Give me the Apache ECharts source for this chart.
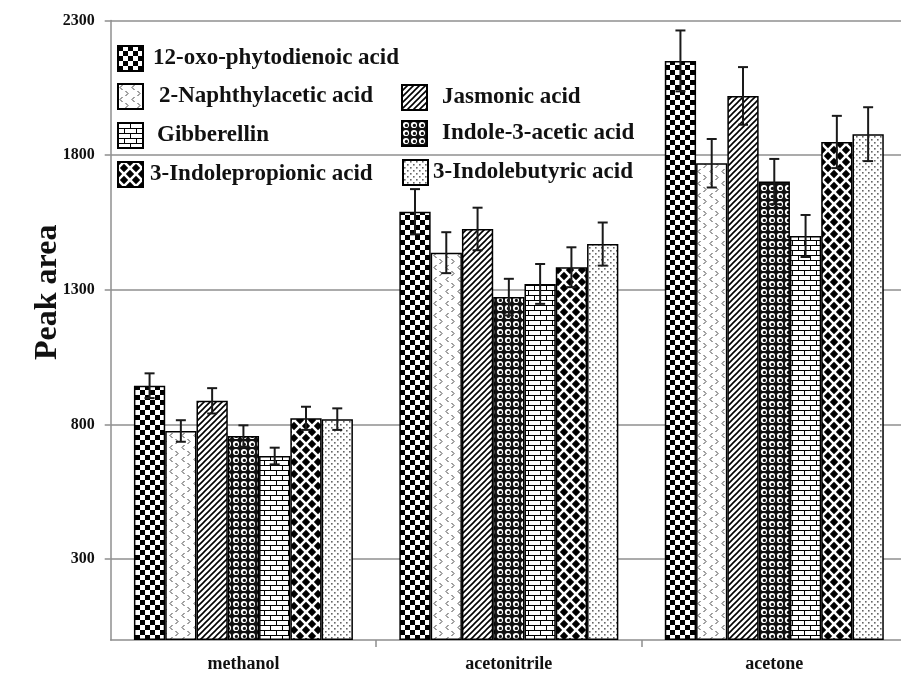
<!DOCTYPE html>
<html>
<head>
<meta charset="utf-8">
<script src="https://cdn.jsdelivr.net/npm/echarts@6/dist/echarts.min.js"></script>
<style>
  html, body { margin: 0; padding: 0; background: #fff; }
  #chart { width: 901px; height: 674px; }
</style>
</head>
<body>
<div id="chart"></div>
<script>
// Solvents on the category axis
const solvents = ['methanol', 'acetonitrile', 'acetone'];

// Compound names (series order within each solvent group)
const compounds = [
  '12-oxo-phytodienoic acid',
  '2-Naphthylacetic acid',
  'Jasmonic acid',
  'Indole-3-acetic acid',
  'Gibberellin',
  '3-Indolepropionic acid',
  '3-Indolebutyric acid'
];

// Peak areas per solvent, and their error bar half-widths
const opdaArea = [944, 1590, 2150];
const opdaErr = [46, 84, 113];
const naaArea = [776, 1438, 1770];
const naaErr = [40, 76, 90];
const jaArea = [888, 1526, 2020];
const jaErr = [47, 79, 107];
const iaaArea = [757, 1273, 1702];
const iaaErr = [40, 68, 84];
const gaArea = [683, 1322, 1500];
const gaErr = [31, 74, 78];
const ipaArea = [823, 1384, 1849];
const ipaErr = [43, 74, 97];
const ibaArea = [820, 1470, 1878];
const ibaErr = [40, 80, 100];

// Value-axis tick labels
const yTicks = [300, 800, 1300, 1800, 2300];

const areas = [opdaArea, naaArea, jaArea, iaaArea, gaArea, ipaArea, ibaArea];
const errs = [opdaErr, naaErr, jaErr, iaaErr, gaErr, ipaErr, ibaErr];

const FONT = "'Liberation Serif', 'Times New Roman', serif";
const GRAY = '#8f8f8f';
const CAT_GAP = 0.175;

// ---- monochrome fill patterns ----
function tile(w, h, draw) {
  const c = document.createElement('canvas');
  c.width = w; c.height = h;
  const g = c.getContext('2d');
  g.fillStyle = '#fff';
  g.fillRect(0, 0, w, h);
  draw(g);
  return { image: c, repeat: 'repeat' };
}
function diamond(g, cx, cy, r) {
  g.beginPath();
  g.moveTo(cx, cy - r); g.lineTo(cx + r, cy); g.lineTo(cx, cy + r); g.lineTo(cx - r, cy);
  g.closePath(); g.fill();
}
const patterns = [
  // checkerboard
  tile(10, 10, g => { g.fillStyle = '#000'; g.fillRect(0, 0, 5, 5); g.fillRect(5, 5, 5, 5); }),
  // small scattered chevrons
  tile(12, 12, g => {
    g.strokeStyle = '#444'; g.lineWidth = 1;
    g.beginPath(); g.moveTo(4.5, 1); g.lineTo(2, 3.5); g.lineTo(4.5, 6); g.stroke();
    g.beginPath(); g.moveTo(7.5, 7); g.lineTo(10, 9.5); g.lineTo(7.5, 12); g.stroke();
  }),
  // wide upward diagonal
  tile(6, 6, g => {
    g.strokeStyle = '#000'; g.lineWidth = 1.6;
    g.beginPath();
    g.moveTo(0, 6); g.lineTo(6, 0);
    g.moveTo(-1, 1); g.lineTo(1, -1);
    g.moveTo(5, 7); g.lineTo(7, 5);
    g.stroke();
  }),
  // bubbles
  tile(8, 8, g => {
    g.fillStyle = '#111'; g.fillRect(0, 0, 8, 8);
    g.fillStyle = '#fff'; g.beginPath(); g.arc(4, 4, 3.1, 0, Math.PI * 2); g.fill();
    g.fillStyle = '#111'; g.beginPath(); g.arc(4.4, 4.4, 1.6, 0, Math.PI * 2); g.fill();
  }),
  // brick
  tile(12, 10, g => {
    g.strokeStyle = '#000'; g.lineWidth = 1;
    g.beginPath();
    g.moveTo(0, 0.5); g.lineTo(12, 0.5);
    g.moveTo(0, 5.5); g.lineTo(12, 5.5);
    g.moveTo(0.5, 0); g.lineTo(0.5, 5.5);
    g.moveTo(6.5, 5.5); g.lineTo(6.5, 10);
    g.stroke();
  }),
  // diamonds
  tile(12, 12, g => {
    g.fillStyle = '#000';
    const r = 4.2;
    diamond(g, 6, 6, r);
    diamond(g, 0, 0, r); diamond(g, 12, 0, r);
    diamond(g, 0, 12, r); diamond(g, 12, 12, r);
  }),
  // fine dots
  tile(6, 6, g => {
    g.fillStyle = '#666';
    g.fillRect(1, 1, 1.6, 1.6);
    g.fillRect(4, 4, 1.6, 1.6);
  })
];

// ---- legend placement (one legend per compound) ----
const legendPos = [
  { left: 117, top: 45, pad: 5 },
  { left: 117, top: 83, pad: 11 },
  { left: 401, top: 84, pad: 10 },
  { left: 401, top: 120, pad: 10 },
  { left: 117, top: 122, pad: 9 },
  { left: 117, top: 161, pad: 2 },
  { left: 402, top: 159, pad: 0 }
];
const legends = compounds.map((name, i) => ({
  data: [name],
  left: legendPos[i].left,
  top: legendPos[i].top,
  orient: 'vertical',
  padding: 0,
  icon: 'rect',
  itemWidth: 25,
  itemHeight: 25,
  selectedMode: false,
  textStyle: {
    fontFamily: FONT, fontSize: 23, fontWeight: 'bold', color: '#111',
    padding: [0, 0, 0, legendPos[i].pad]
  }
}));

// ---- bar series ----
const barSeries = compounds.map((name, i) => ({
  name,
  type: 'bar',
  z: 2,
  barGap: '0%',
  barCategoryGap: (CAT_GAP * 100) + '%',
  data: areas[i],
  itemStyle: { color: patterns[i], borderColor: '#000', borderWidth: 1.5 }
}));

// ---- error bars, placed over each bar ----
const errSeries = compounds.map((name, k) => ({
  type: 'custom',
  z: 3,
  silent: true,
  encode: { x: 0, y: 1 },
  data: solvents.map((s, c) => [c, areas[k][c], errs[k][c]]),
  renderItem(params, api) {
    const ci = api.value(0), v = api.value(1), e = api.value(2);
    const catW = api.size([1, 0])[0];
    const groupW = catW * (1 - CAT_GAP);
    const bw = groupW / compounds.length;
    const cx = api.coord([ci, v])[0] - groupW / 2 + (k + 0.5) * bw;
    const yTop = api.coord([ci, v + e])[1];
    const yBot = api.coord([ci, v - e])[1];
    const cap = 5;
    const st = { stroke: '#1a1a1a', lineWidth: 2 };
    return {
      type: 'group',
      children: [
        { type: 'line', shape: { x1: cx, y1: yTop, x2: cx, y2: yBot }, style: st },
        { type: 'line', shape: { x1: cx - cap, y1: yTop, x2: cx + cap, y2: yTop }, style: st },
        { type: 'line', shape: { x1: cx - cap, y1: yBot, x2: cx + cap, y2: yBot }, style: st }
      ]
    };
  }
}));

const chart = echarts.init(document.getElementById('chart'), null, { renderer: 'canvas' });
chart.setOption({
  animation: false,
  backgroundColor: '#fff',
  grid: { left: 110.7, right: -6, top: 20.5, bottom: 34, containLabel: false, outerBoundsMode: 'none' },
  legend: legends,
  xAxis: {
    type: 'category',
    data: solvents,
    boundaryGap: true,
    axisLine: { show: true, lineStyle: { color: GRAY, width: 1.5 } },
    axisTick: { show: true, length: 7, interval: idx => idx !== 0, lineStyle: { color: GRAY, width: 1.5 } },
    axisLabel: { margin: 15, fontFamily: FONT, fontSize: 18, fontWeight: 'bold', color: '#111' },
    splitLine: { show: false }
  },
  yAxis: {
    type: 'value',
    min: 0,
    max: 2300,
    name: 'Peak area',
    nameLocation: 'middle',
    nameGap: 47,
    nameMoveOverlap: false,
    nameTextStyle: { fontFamily: FONT, fontSize: 32, fontWeight: 'bold', color: '#111', padding: [0, 0, 0, 76] },
    axisLine: { show: true, lineStyle: { color: GRAY, width: 1.5 } },
    axisTick: { show: true, length: 6, customValues: yTicks, lineStyle: { color: GRAY, width: 1.5 } },
    axisLabel: {
      customValues: yTicks, margin: 16, formatter: v => String(v),
      fontFamily: FONT, fontSize: 16, fontWeight: 'bold', color: '#111'
    },
    splitLine: { show: true, lineStyle: { color: GRAY, width: 1.5 } }
  },
  series: barSeries.concat(errSeries)
});
</script>
</body>
</html>
